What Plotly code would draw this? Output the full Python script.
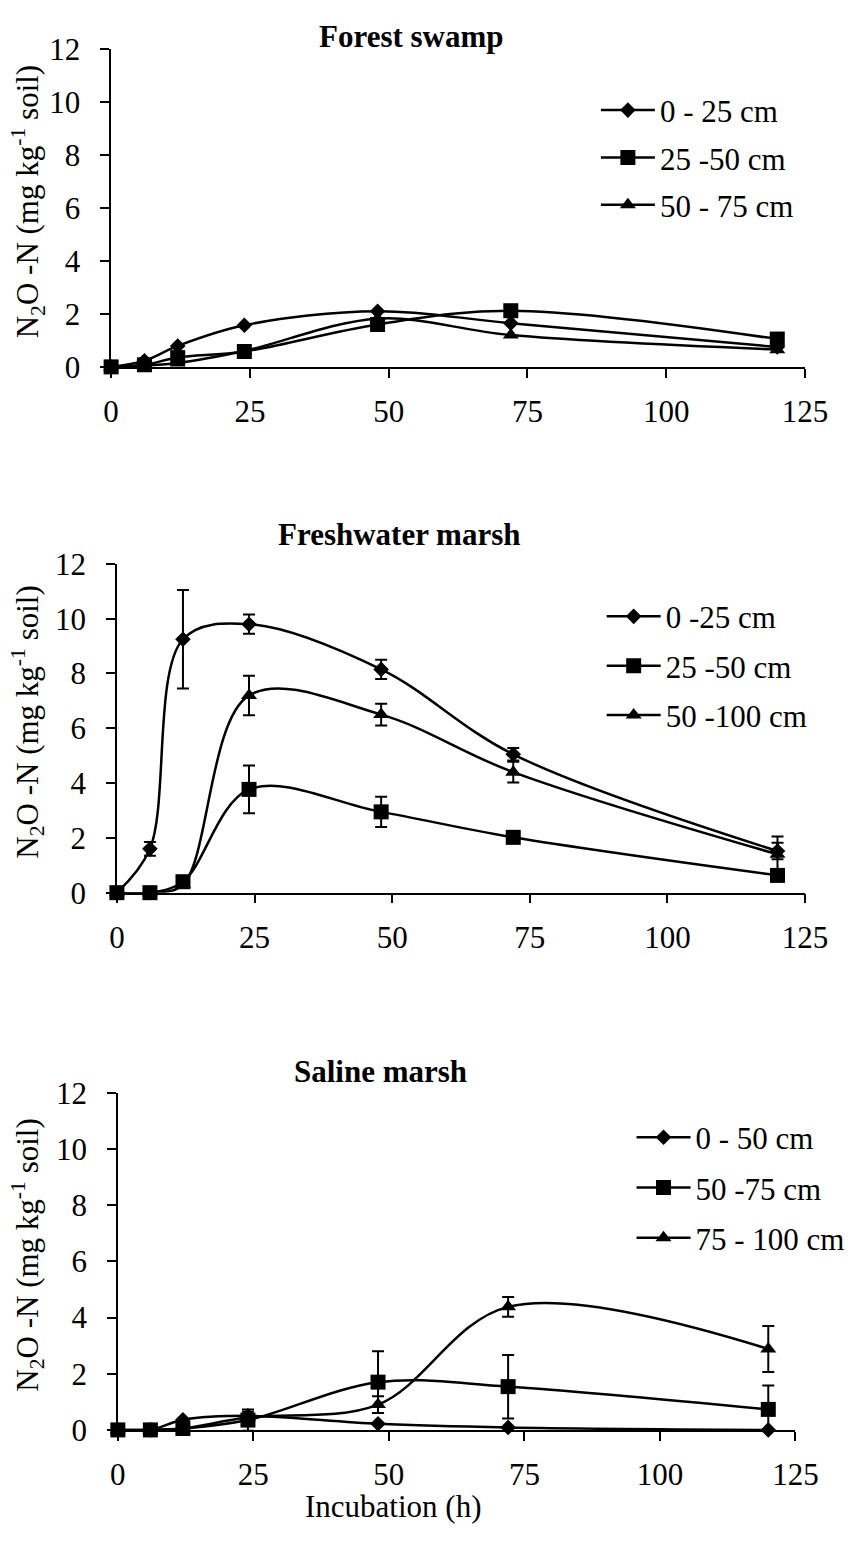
import plotly.graph_objects as go

FONT = "Liberation Serif"

# Incubation times (h)
hours = [0, 6, 12, 24, 48, 72, 120]

# Forest swamp: N2O-N (mg kg-1 soil)
forest_labels = ["0 - 25 cm", "25 -50 cm", "50 - 75 cm"]
forest_a = [0.0, 0.23, 0.79, 1.57, 2.10, 1.65, 0.75]
forest_b = [0.0, 0.08, 0.35, 0.58, 1.60, 2.12, 1.05]
forest_c = [0.0, 0.05, 0.15, 0.60, 1.82, 1.20, 0.65]

# Freshwater marsh
fresh_labels = ["0 -25 cm", "25 -50 cm", "50 -100 cm"]
fresh_a = [0.0, 1.60, 9.25, 9.80, 8.15, 5.05, 1.52]
fresh_a_err = [0.0, 0.25, 1.80, 0.35, 0.35, 0.23, 0.30]
fresh_b = [0.0, 0.0, 0.40, 3.77, 2.95, 2.02, 0.63]
fresh_b_err = [0.0, 0.0, 0.10, 0.87, 0.55, 0.0, 0.15]
fresh_c = [0.0, 0.0, 0.30, 7.20, 6.50, 4.40, 1.40]
fresh_c_err = [0.0, 0.0, 0.10, 0.72, 0.40, 0.38, 0.65]

# Saline marsh
saline_labels = ["0 - 50 cm", "50 -75 cm", "75 - 100 cm"]
saline_a = [0.0, 0.0, 0.36, 0.50, 0.22, 0.09, 0.0]
saline_a_err = [0.0, 0.0, 0.0, 0.0, 0.0, 0.0, 0.0]
saline_b = [0.0, 0.0, 0.05, 0.35, 1.70, 1.54, 0.73]
saline_b_err = [0.0, 0.0, 0.0, 0.38, 1.10, 1.13, 0.85]
saline_c = [0.0, 0.0, 0.05, 0.45, 0.90, 4.38, 2.88]
saline_c_err = [0.0, 0.0, 0.0, 0.20, 0.30, 0.35, 0.82]

panel_titles = ["Forest swamp", "Freshwater marsh", "Saline marsh"]
x_ticks = [0, 25, 50, 75, 100, 125]
y_ticks = [0, 2, 4, 6, 8, 10, 12]

W, H = 855, 1543

symbols = ["diamond", "square", "triangle-up"]
sizes = [12, 15, 14]

panels = [
    dict(labels=forest_labels, series=[forest_a, forest_b, forest_c], errors=[None, None, None],
         xdom=(107, 827), ydom=(32.7, 358.0), title_xy=(419, 20),
         legend=dict(x=610, y=68, gap=4)),
    dict(labels=fresh_labels, series=[fresh_a, fresh_b, fresh_c],
         errors=[fresh_a_err, fresh_b_err, fresh_c_err],
         xdom=(113, 827), ydom=(559.6, 896.0), title_xy=(406, 530),
         legend=dict(x=616, y=586, gap=6)),
    dict(labels=saline_labels, series=[saline_a, saline_b, saline_c],
         errors=[saline_a_err, saline_b_err, saline_c_err],
         xdom=(114, 817), ydom=(1100.7, 1445.7), title_xy=(387, 1079),
         legend=dict(x=647, y=1119, gap=7)),
]

fig = go.Figure()
annotations = []
layout_axes = {}

tick_font = dict(family=FONT, size=31, color="black")

for p_idx, p in enumerate(panels, start=1):
    suffix = "" if p_idx == 1 else str(p_idx)
    legend_name = "legend" if p_idx == 1 else f"legend{p_idx}"
    for s_idx, (label, ys, err) in enumerate(zip(p["labels"], p["series"], p["errors"])):
        trace = go.Scatter(
            x=hours, y=ys, name=label, mode="lines+markers",
            line=dict(color="black", width=2.5, shape="spline", smoothing=1.0),
            marker=dict(symbol=symbols[s_idx], size=sizes[s_idx], color="black"),
            xaxis="x" + suffix, yaxis="y" + suffix,
            legend=legend_name, legendgroup=f"p{p_idx}s{s_idx}",
            cliponaxis=False,
        )
        if err is not None:
            trace.error_y = dict(type="data", array=err, visible=True,
                                 color="black", thickness=2, width=6)
        fig.add_trace(trace)

    x0, x1 = p["xdom"]
    ytop, ybot = p["ydom"]
    layout_axes["xaxis" + suffix] = dict(
        domain=[x0 / W, x1 / W], anchor="y" + suffix, range=[0, 125],
        tickvals=x_ticks, ticks="outside", ticklen=9, tickwidth=1.5, tickcolor="black",
        showline=True, linecolor="black", linewidth=1.5, showgrid=False, zeroline=False,
        tickfont=tick_font, ticklabelstandoff=7,
    )
    layout_axes["yaxis" + suffix] = dict(
        domain=[1 - ybot / H, 1 - ytop / H], anchor="x" + suffix, range=[0, 12],
        tickvals=y_ticks, ticks="outside", ticklen=9, tickwidth=1.5, tickcolor="black",
        showline=True, linecolor="black", linewidth=1.5, showgrid=False, zeroline=False,
        tickfont=tick_font, ticklabelstandoff=14,
    )
    lg = p["legend"]
    layout_axes[legend_name] = dict(
        x=lg["x"] / W, y=1 - lg["y"] / H, xanchor="left", yanchor="top",
        bgcolor="rgba(0,0,0,0)", borderwidth=0, itemwidth=54, itemsizing="trace",
        tracegroupgap=lg["gap"], traceorder="grouped",
        font=dict(family=FONT, size=31, color="black"),
    )
    tx, ty = p["title_xy"]
    annotations.append(dict(
        text=f"<b>{panel_titles[p_idx - 1]}</b>", x=tx / W, y=1 - ty / H,
        xref="paper", yref="paper", xanchor="center", yanchor="middle", showarrow=False,
        font=dict(family=FONT, size=31, color="black"),
    ))
    annotations.append(dict(
        text="N<sub>2</sub>O -N (mg kg<sup>-1</sup> soil)", textangle=-90,
        x=21 / W, y=1 - ((ytop + ybot) / 2 - 6) / H,
        xref="paper", yref="paper", xanchor="center", yanchor="middle", showarrow=False,
        font=dict(family=FONT, size=31, color="black"),
    ))

annotations.append(dict(
    text="Incubation (h)", x=400 / W, y=1 - 1524 / H, xref="paper", yref="paper",
    xanchor="center", yanchor="middle", showarrow=False,
    font=dict(family=FONT, size=31, color="black"),
))

fig.update_layout(
    width=W, height=H, margin=dict(l=0, r=0, t=0, b=0),
    paper_bgcolor="white", plot_bgcolor="white",
    showlegend=True, annotations=annotations,
    font=dict(family=FONT, size=31, color="black"),
    **layout_axes,
)

fig.write_html("out.html")
